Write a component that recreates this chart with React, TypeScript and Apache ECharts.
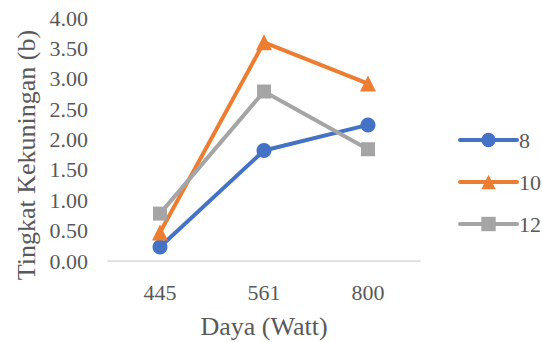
import React, { useEffect, useRef } from "react";
import * as echarts from "echarts";

const categories = ["445", "561", "800"];
const series8 = [0.23, 1.82, 2.24];
const series10 = [0.47, 3.6, 2.92];
const series12 = [0.78, 2.79, 1.84];
const seriesNames = ["8", "10", "12"];
const yTitle = "Tingkat Kekuningan (b)";
const xTitle = "Daya (Watt)";

const FONT = "Liberation Serif";
const TXT = "#595959";

export default function App() {
  const ref = useRef<HTMLDivElement>(null);
  useEffect(() => {
    if (!ref.current) return;
    const chart = echarts.init(ref.current, null, { renderer: "svg" });
    const mk = (name: string, data: number[], color: string, symbol: string, size: number) => ({
      name,
      type: "line",
      data,
      symbol,
      symbolSize: size,
      lineStyle: { color, width: 4, cap: "round" },
      itemStyle: { color },
      emphasis: { disabled: true },
    });
    chart.setOption({
      animation: false,
      grid: { left: 108, right: 122, top: 18, bottom: 81 },
      xAxis: {
        type: "category",
        data: categories,
        boundaryGap: true,
        axisLine: { lineStyle: { color: "#D9D9D9", width: 1.5 } },
        axisTick: { show: false },
        axisLabel: { color: TXT, fontFamily: FONT, fontSize: 22, margin: 20 },
      },
      yAxis: {
        type: "value",
        min: 0,
        max: 4,
        interval: 0.5,
        axisLine: { show: false },
        axisTick: { show: false },
        splitLine: { show: false },
        axisLabel: {
          color: TXT,
          fontFamily: FONT,
          fontSize: 22,
          margin: 20,
          formatter: (v: number) => v.toFixed(2),
        },
      },
      legend: {
        orient: "vertical",
        left: 458,
        top: 129,
        padding: 0,
        itemWidth: 57,
        itemHeight: 18,
        itemGap: 20,
        data: seriesNames,
        lineStyle: { width: 4, cap: "round" },
        textStyle: { color: TXT, fontFamily: FONT, fontSize: 22, padding: [0, 0, 0, -3] },
      },
      graphic: [
        {
          type: "text",
          x: 26,
          y: 155,
          rotation: Math.PI / 2,
          style: {
            text: yTitle,
            fill: TXT,
            fontFamily: FONT,
            fontSize: 26,
            align: "center",
            verticalAlign: "middle",
          },
        },
        {
          type: "text",
          x: 264,
          y: 326,
          style: {
            text: xTitle,
            fill: TXT,
            fontFamily: FONT,
            fontSize: 26,
            align: "center",
            verticalAlign: "middle",
          },
        },
      ],
      series: [
        mk(seriesNames[0], series8, "#4472C4", "circle", 15),
        mk(seriesNames[1], series10, "#ED7D31", "triangle", 16),
        mk(seriesNames[2], series12, "#A5A5A5", "rect", 14),
      ],
    });
    return () => chart.dispose();
  }, []);
  return <div ref={ref} style={{ width: 542, height: 342, position: "absolute", left: 0, top: 0 }} />;
}
